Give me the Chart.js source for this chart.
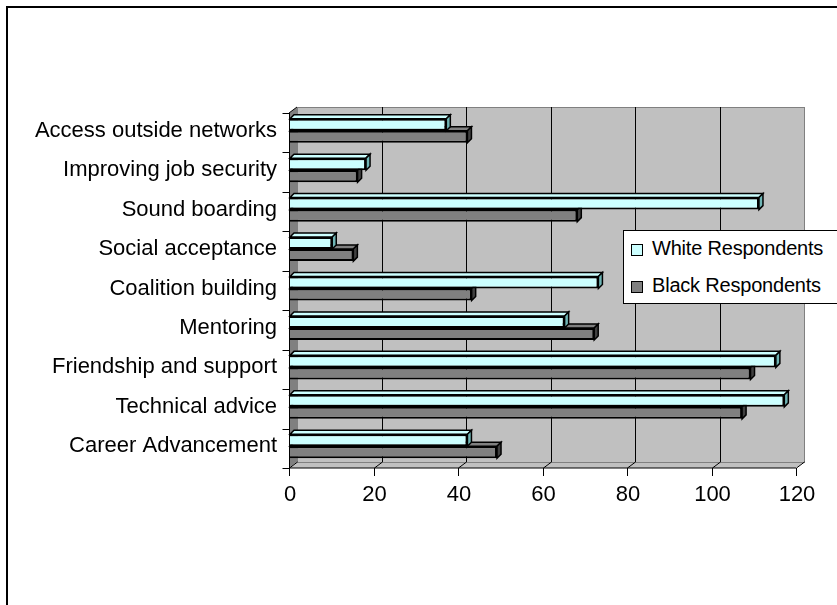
<!DOCTYPE html>
<html>
<head>
<meta charset="utf-8">
<script src="https://cdn.jsdelivr.net/npm/chart.js@4/dist/chart.umd.min.js"></script>
<style>
  html, body { margin: 0; padding: 0; background: #fff; }
  #wrap { position: relative; width: 837px; height: 605px; overflow: hidden; }
  #frame { position: absolute; left: 6px; top: 6px; width: 900px; height: 700px;
           border-top: 2px solid #000; border-left: 2px solid #000; }
  #chart { position: absolute; left: 0; top: 0; }
  #legend { position: absolute; left: 623px; top: 230px; width: 240px; height: 72px;
            border: 1px solid #000; background: #fff;
            font-family: "Liberation Sans", Arial, sans-serif; font-size: 20px; color: #000;
            letter-spacing: -0.2px; }
  .item { position: absolute; left: 7px; height: 24px; display: flex; align-items: center; white-space: nowrap; }
  .sw { width: 10px; height: 10px; border: 1px solid #000; margin-right: 9px; margin-top: 3px; }
</style>
</head>
<body>
<div id="wrap">
  <div id="frame"></div>
  <canvas id="chart" width="837" height="605"></canvas>
  <div id="legend"></div>
</div>
<script>
// Survey categories, listed top to bottom
const categories = [
  'Access outside networks',
  'Improving job security',
  'Sound boarding',
  'Social acceptance',
  'Coalition building',
  'Mentoring',
  'Friendship and support',
  'Technical advice',
  'Career Advancement'
];
const seriesNames = ['White Respondents', 'Black Respondents'];
const whiteRespondents = [37, 18, 111, 10, 73, 65, 115, 117, 42];
const blackRespondents = [42, 16, 68, 15, 43, 72, 109, 107, 49];
const xTicks = [0, 20, 40, 60, 80, 100, 120];

const faceColors = ['#CCFFFF', '#808080'];
const sideColors = ['#6FB5B5', '#404040'];

// Draws the 3D walls, floor, gridlines, axis ticks and the bar depth faces
const depthPlugin = {
  id: 'depth3d',
  beforeDatasetsDraw(chart) {
    const { ctx, chartArea: a, scales: { x } } = chart;
    const F = { dx: -1, dy: 2 };   // front plane offset
    const B = { dx: 7, dy: -4 };   // back plane offset
    ctx.save();
    ctx.lineWidth = 1;

    // back wall
    ctx.fillStyle = '#C0C0C0';
    ctx.fillRect(a.left + B.dx, a.top + B.dy, a.right - a.left, a.bottom - a.top);
    ctx.strokeStyle = '#808080';
    ctx.strokeRect(a.left + B.dx + 0.5, a.top + B.dy + 0.5, a.right - a.left, a.bottom - a.top);

    // left wall
    ctx.fillStyle = '#808080';
    ctx.beginPath();
    ctx.moveTo(a.left + F.dx, a.top + F.dy);
    ctx.lineTo(a.left + B.dx, a.top + B.dy);
    ctx.lineTo(a.left + B.dx, a.bottom + B.dy);
    ctx.lineTo(a.left + F.dx, a.bottom + F.dy);
    ctx.closePath();
    ctx.fill();

    // floor
    ctx.fillStyle = '#C0C0C0';
    ctx.beginPath();
    ctx.moveTo(a.left + F.dx, a.bottom + F.dy);
    ctx.lineTo(a.right + F.dx, a.bottom + F.dy);
    ctx.lineTo(a.right + B.dx, a.bottom + B.dy);
    ctx.lineTo(a.left + B.dx, a.bottom + B.dy);
    ctx.closePath();
    ctx.fill();
    ctx.strokeStyle = '#808080';
    ctx.beginPath();
    ctx.moveTo(a.left + B.dx, a.bottom + B.dy + 0.5);
    ctx.lineTo(a.right + B.dx, a.bottom + B.dy + 0.5);
    ctx.stroke();

    // gridlines on the back wall and floor, tick marks on the front edge
    ctx.strokeStyle = '#000';
    xTicks.forEach(v => {
      const px = Math.round(x.getPixelForValue(v)) + 0.5;
      if (v > 0 && v < xTicks[xTicks.length - 1]) {
        ctx.beginPath();
        ctx.moveTo(px + B.dx, a.top + B.dy);
        ctx.lineTo(px + B.dx, a.bottom + B.dy);
        ctx.stroke();
      }
      ctx.beginPath();
      ctx.moveTo(px + F.dx, a.bottom + F.dy);
      ctx.lineTo(px + B.dx, a.bottom + B.dy);
      ctx.stroke();
      ctx.beginPath();
      ctx.moveTo(px + F.dx, a.bottom + F.dy);
      ctx.lineTo(px + F.dx, a.bottom + F.dy + 8);
      ctx.stroke();
    });

    // front axis lines
    const ax = Math.round(a.left + F.dx) + 0.5;
    ctx.beginPath();
    ctx.moveTo(ax, a.top + F.dy);
    ctx.lineTo(ax, a.bottom + F.dy);
    ctx.lineTo(a.right + F.dx, a.bottom + F.dy);
    ctx.stroke();
    ctx.beginPath();
    ctx.moveTo(a.left + F.dx, a.top + F.dy);
    ctx.lineTo(a.left + B.dx, a.top + B.dy);
    ctx.stroke();

    // category boundary ticks
    const n = categories.length;
    const band = (a.bottom - a.top) / n;
    for (let i = 0; i <= n; i++) {
      const yb = Math.round(a.top + i * band + F.dy) + 0.5;
      ctx.beginPath();
      ctx.moveTo(ax - 7, yb);
      ctx.lineTo(ax, yb);
      ctx.stroke();
    }

    // bar depth faces (top and end); the front faces are drawn by the library
    const d = 4;
    for (let di = chart.data.datasets.length - 1; di >= 0; di--) {
      const meta = chart.getDatasetMeta(di);
      meta.data.forEach(el => {
        const x0 = el.base, x1 = el.x;
        const yt = el.y - el.height / 2, yb2 = el.y + el.height / 2;
        ctx.lineWidth = 1.5;
        ctx.strokeStyle = '#000';
        ctx.fillStyle = faceColors[di];
        ctx.beginPath();
        ctx.moveTo(x0, yt);
        ctx.lineTo(x0 + d, yt - d);
        ctx.lineTo(x1 + d, yt - d);
        ctx.lineTo(x1, yt);
        ctx.closePath();
        ctx.fill();
        ctx.stroke();
        ctx.fillStyle = sideColors[di];
        ctx.beginPath();
        ctx.moveTo(x1, yt);
        ctx.lineTo(x1 + d, yt - d);
        ctx.lineTo(x1 + d, yb2 - d);
        ctx.lineTo(x1, yb2);
        ctx.closePath();
        ctx.fill();
        ctx.stroke();
      });
    }
    ctx.restore();
  }
};

Chart.defaults.font.family = '"Liberation Sans", Arial, sans-serif';
Chart.defaults.font.size = 22;
Chart.defaults.color = '#000';

new Chart(document.getElementById('chart'), {
  type: 'bar',
  data: {
    labels: categories,
    datasets: [
      { label: seriesNames[0], data: whiteRespondents, backgroundColor: faceColors[0],
        borderColor: '#000', borderWidth: 2 },
      { label: seriesNames[1], data: blackRespondents, backgroundColor: faceColors[1],
        borderColor: '#000', borderWidth: 2 }
    ]
  },
  options: {
    indexAxis: 'y',
    responsive: false,
    animation: false,
    devicePixelRatio: 1,
    layout: { padding: { top: 111, right: 40, bottom: 0, left: 0 } },
    categoryPercentage: 0.61,
    barPercentage: 1,
    plugins: { legend: { display: false }, tooltip: { enabled: false } },
    scales: {
      x: {
        min: 0, max: 120,
        afterBuildTicks(scale) { scale.ticks = xTicks.map(v => ({ value: v })); },
        ticks: { padding: 16, maxRotation: 0, autoSkip: false },
        grid: { display: false, drawTicks: false },
        border: { display: false },
        afterFit(scale) { scale.height = 139; }
      },
      y: {
        ticks: { padding: 13, autoSkip: false },
        grid: { display: false, drawTicks: false },
        border: { display: false },
        afterFit(scale) { scale.width = 290; }
      }
    }
  },
  plugins: [depthPlugin]
});

// Legend built from the series names and colours
const legend = document.getElementById('legend');
seriesNames.forEach((name, i) => {
  const item = document.createElement('div');
  item.className = 'item';
  item.style.top = (i === 0 ? 5 : 42) + 'px';
  const sw = document.createElement('span');
  sw.className = 'sw';
  sw.style.background = faceColors[i];
  const txt = document.createElement('span');
  txt.textContent = name;
  item.appendChild(sw);
  item.appendChild(txt);
  legend.appendChild(item);
});
</script>
</body>
</html>
